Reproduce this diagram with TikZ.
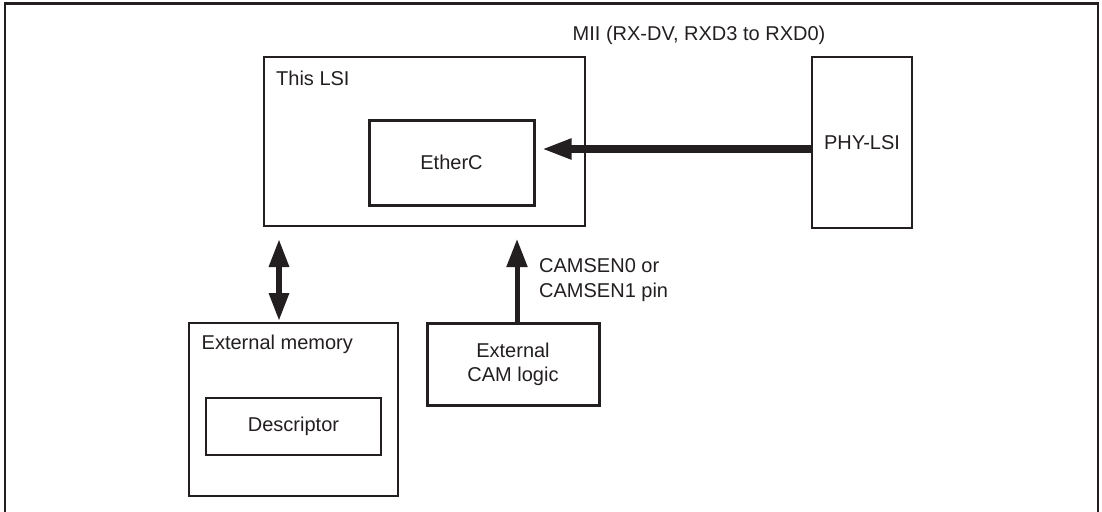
\documentclass[tikz,border=0pt]{standalone}
\usepackage{fontspec}
\setmainfont{Liberation Sans}
\usetikzlibrary{arrows.meta,calc}
\definecolor{ink}{HTML}{231F20}
\begin{document}
\begin{tikzpicture}[x=1pt,y=-1pt,
  font=\fontsize{20pt}{24pt}\selectfont,
  every node/.style={text=ink},
  thinbox/.style={draw=ink,line width=2pt,rectangle,inner sep=0pt},
  thickbox/.style={draw=ink,line width=3pt,rectangle,inner sep=0pt},
  lbl/.style={inner sep=0pt,anchor=base west},
  bigarrow/.style={draw=ink,line width=7.7pt,-{Triangle[length=30pt,width=19pt]}},
  dblarrow/.style={draw=ink,line width=6pt,{Triangle[length=28pt,width=19pt]}-{Triangle[length=28pt,width=19pt]}},
  uparrow/.style={draw=ink,line width=5pt,-{Triangle[length=28pt,width=20pt]}}
]
\useasboundingbox (0,0) rectangle (1102,511);
\draw[ink,line width=2.8pt] (5,515) -- (5,3.5) -- (1098,3.5) -- (1098,515);

\node[thinbox,minimum width=321pt,minimum height=169pt] (lsi) at (424.5,141.5) {};
\node[lbl] (lsilbl) at (276,85) {This LSI};
\node[thickbox,minimum width=165pt,minimum height=85pt] (etherc) at (451.5,162.5) {EtherC};
\node[thinbox,minimum width=100pt,minimum height=171pt] (phy) at (862,142.5) {PHY-LSI};
\node[lbl] (mii) at (572.5,41) {MII (RX-DV, RXD3 to RXD0)};

\node[thinbox,minimum width=209pt,minimum height=173pt] (extmem) at (293.5,409.5) {};
\node[lbl] (extmemlbl) at (201.5,349) {External memory};
\node[thinbox,minimum width=175pt,minimum height=57pt] (desc) at (293.5,426.5) {Descriptor};

\node[thickbox,minimum width=172pt,minimum height=82pt,align=center] (cam) at (513,364) {External\\CAM logic};
\node[inner sep=0pt,align=left,anchor=north west,font=\fontsize{20pt}{25.5pt}\selectfont] (camsen) at (539,258) {CAMSEN0 or\\CAMSEN1 pin};

\draw[bigarrow] ($(phy.west)+(0,6.5)$) -- ($(etherc.east)+(6,-13.5)$);
\draw[dblarrow] ($(extmem.north |- lsi.south)+(-14.5,12)$) -- ($(extmem.north)+(-14.5,-1)$);
\draw[uparrow] ($(cam.north)+(4,0)$) -- ($(cam.north |- lsi.south)+(4,12)$);
\end{tikzpicture}
\end{document}
